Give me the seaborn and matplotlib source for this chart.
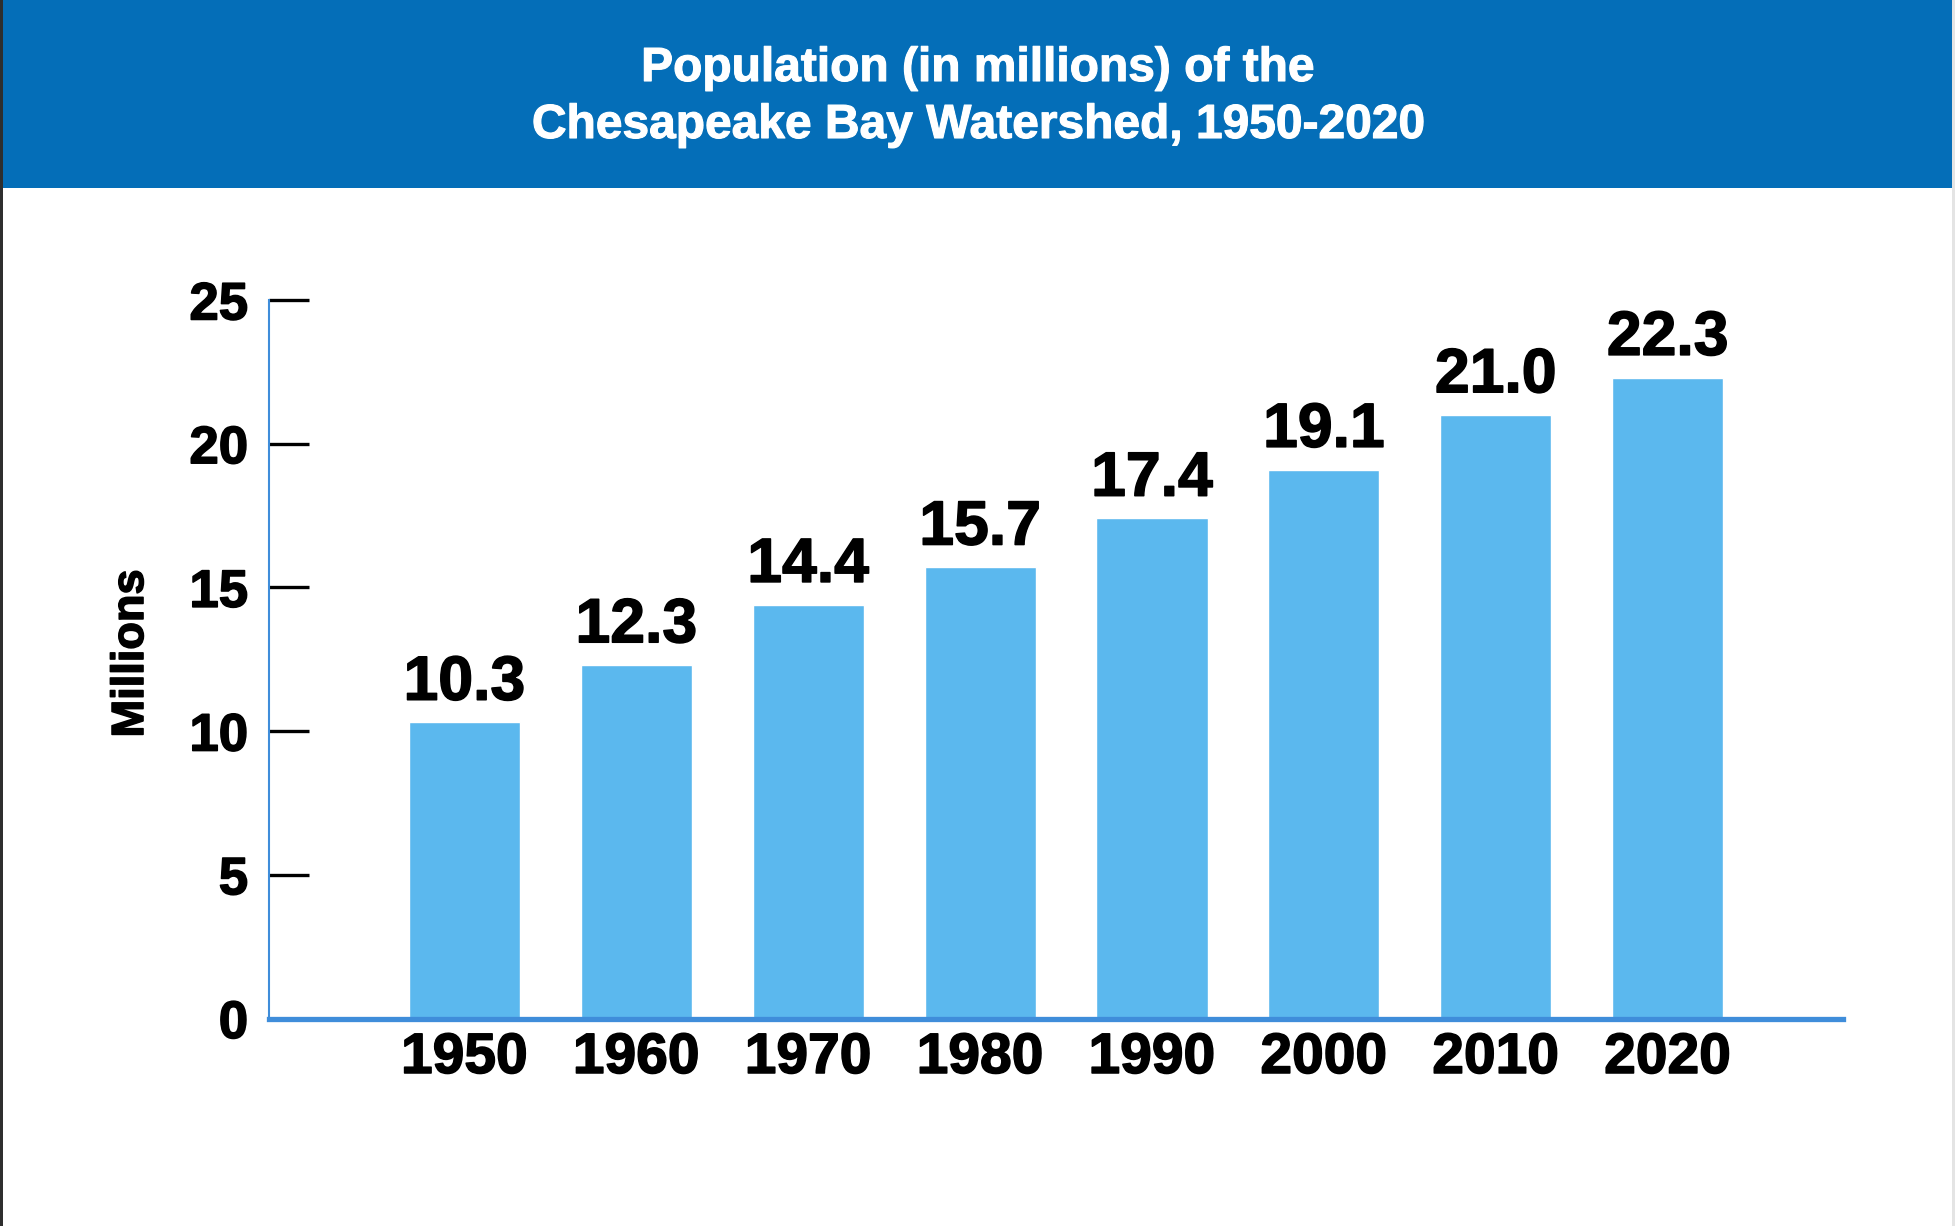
import pandas as pd
import seaborn as sns
import matplotlib.pyplot as plt
import matplotlib.patheffects as pe
from matplotlib.patches import Rectangle

# data
years = ['1950', '1960', '1970', '1980', '1990', '2000', '2010', '2020']
population = [10.3, 12.3, 14.4, 15.7, 17.4, 19.1, 21.0, 22.3]
y_ticks = [0, 5, 10, 15, 20, 25]

title_line1 = 'Population (in millions) of the'
title_line2 = 'Chesapeake Bay Watershed, 1950-2020'

header_blue = '#046EB8'
bar_blue = '#5BB8EE'
axis_blue = '#3F8DDA'

sns.set_theme(style='white')
plt.rcParams['font.family'] = ['Liberation Sans', 'DejaVu Sans']
plt.rcParams['font.weight'] = 'bold'

df = pd.DataFrame({'year': years, 'population': population})

# slightly heavier strokes, the original font is chunkier than Liberation
black_fx = [pe.withStroke(linewidth=1.1, foreground='black')]
white_fx = [pe.withStroke(linewidth=0.8, foreground='white')]

W, H = 1956, 1226
fig = plt.figure(figsize=(W / 100, H / 100), dpi=100)
fig.patch.set_facecolor('white')

# header band and frame edges
fig.patches.append(Rectangle((3 / W, 1 - 188 / H), (1952 - 3) / W, 188 / H,
                             transform=fig.transFigure, facecolor=header_blue,
                             edgecolor='none', zorder=0))
fig.patches.append(Rectangle((0, 0), 3 / W, 1, transform=fig.transFigure,
                             facecolor='#2e2e2e', edgecolor='none', zorder=0))
fig.patches.append(Rectangle((1952 / W, 0), 4 / W, 1, transform=fig.transFigure,
                             facecolor='#e4e4e4', edgecolor='none', zorder=0))

fig.text(978 / W, 1 - 81 / H, title_line1, color='white', fontsize=34.5,
         fontweight='bold', ha='center', va='baseline', path_effects=white_fx)
fig.text(978 / W, 1 - 138 / H, title_line2, color='white', fontsize=34.5,
         fontweight='bold', ha='center', va='baseline', path_effects=white_fx)

ax = fig.add_axes([269 / W, 1 - 1018.5 / H, (1843 - 269) / W, (1018.5 - 300) / H])
ax.set_facecolor('white')

sns.barplot(data=df, x='year', y='population', color=bar_blue, width=0.646,
            saturation=1, ax=ax)
labels = ax.bar_label(ax.containers[0], fmt='%.1f', padding=7, fontsize=45,
                      fontweight='bold', color='black', clip_on=False)
for t in labels:
    t.set_path_effects(black_fx)

ax.set_xlim(-1.137, 8.02)
ax.set_ylim(0, 25)
ax.set_yticks(y_ticks)
ax.set_yticklabels([str(t) for t in y_ticks])

ax.tick_params(axis='y', direction='in', length=28.8, width=2.4, color='black',
               labelsize=38, pad=15, left=True)
ax.tick_params(axis='x', length=0, labelsize=41, pad=9)
for lab in ax.get_xticklabels() + ax.get_yticklabels():
    lab.set_fontweight('bold')
    lab.set_color('black')
    lab.set_path_effects(black_fx)

ax.set_xlabel('')
ax.set_ylabel('Millions', fontsize=32.5, fontweight='bold', color='black',
              path_effects=black_fx)
ax.yaxis.set_label_coords(-0.0743, 0.508)

for side in ['top', 'right']:
    ax.spines[side].set_visible(False)
ax.spines['left'].set_color(axis_blue)
ax.spines['left'].set_linewidth(1.5)
ax.spines['bottom'].set_color(axis_blue)
ax.spines['bottom'].set_linewidth(3.8)
ax.spines['bottom'].set_zorder(3)
ax.grid(False)

plt.savefig('out.png', dpi=100)
